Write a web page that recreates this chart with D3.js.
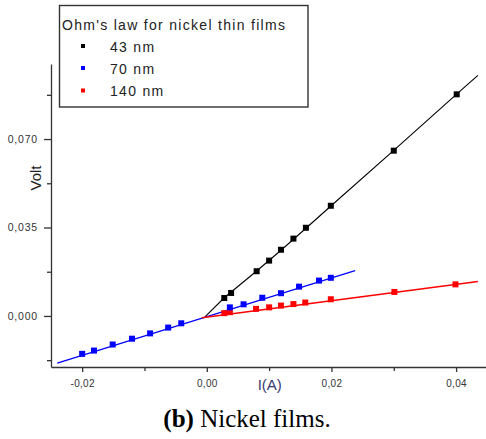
<!DOCTYPE html>
<html><head><meta charset="utf-8">
<script src="https://cdn.jsdelivr.net/npm/d3@7"></script>
<style>
html,body{margin:0;padding:0;background:#fff;}
svg{display:block;font-family:"Liberation Sans",Arial,sans-serif;}
</style></head>
<body>
<svg id="c" width="486" height="439"></svg>
<script>
// ---- data ----
const seriesNames = ["43 nm", "70 nm", "140 nm"];
const seriesColors = ["#000000", "#0000ff", "#ff0000"];
const legendTitle = "Ohm's law for nickel thin films";

const black43I = [0.0028, 0.0039, 0.0080, 0.0100, 0.0119, 0.0139, 0.0159, 0.0199, 0.0300, 0.0401];
const black43V = [0.0071, 0.0091, 0.0177, 0.0219, 0.0262, 0.0306, 0.0349, 0.0436, 0.0654, 0.0877];

const blue70I = [-0.0200, -0.0181, -0.0151, -0.0120, -0.0091, -0.0062, -0.0041, 0.0037, 0.0059, 0.0089, 0.0119, 0.0148, 0.0180, 0.0199];
const blue70V = [-0.0150, -0.0137, -0.0113, -0.0090, -0.0069, -0.0046, -0.0029, 0.0034, 0.0046, 0.0072, 0.0090, 0.0116, 0.0140, 0.0151];

const red140I = [0.0028, 0.0037, 0.0079, 0.0100, 0.0119, 0.0139, 0.0158, 0.0199, 0.0301, 0.0399];
const red140V = [0.0011, 0.0015, 0.0028, 0.0034, 0.0041, 0.0047, 0.0053, 0.0066, 0.0095, 0.0125];

// fitted lines (nodes)
const blackFitI = [-0.0003, 0.0028, 0.0080, 0.0120, 0.0160, 0.0200, 0.0300, 0.0400, 0.0435];
const blackFitV = [-0.0004, 0.0072, 0.0178, 0.0262, 0.0349, 0.0437, 0.0655, 0.0876, 0.0952];
const blueFitI = [-0.0240, 0.0238];
const blueFitV = [-0.0187, 0.0179];
const redFitI = [-0.0008, 0.0435];
const redFitV = [-0.0007, 0.0136];

const xMajorTicks = [-0.02, 0.00, 0.02, 0.04];
const xMajorLabels = ["-0,02", "0,00", "0,02", "0,04"];
const xMinorTicks = [-0.01, 0.01, 0.03];
const yMajorTicks = [0.000, 0.035, 0.070];
const yMajorLabels = ["0,000", "0,035", "0,070"];
const yMinorTicks = [-0.0175, 0.0175, 0.0525, 0.0875];
const xTitle = "I(A)";
const yTitle = "Volt";
const captionBold = "(b)";
const captionRest = " Nickel films.";

// ---- drawing ----
const svg = d3.select("#c");
const x = d3.scaleLinear().domain([-0.025, 0.0448]).range([51, 486]);
const y = d3.scaleLinear().domain([-0.0202, 0.0997]).range([367, 64]);
const axisColor = "#333";

// x axis
const gx = svg.append("g").attr("transform", `translate(0,${y.range()[0]})`);
gx.call(d3.axisBottom(x).tickValues(xMajorTicks).tickSize(5).tickPadding(8)
  .tickFormat((d,i) => xMajorLabels[i]).tickSizeOuter(0));
const gx2 = svg.append("g").attr("transform", `translate(0,${y.range()[0]})`);
gx2.call(d3.axisBottom(x).tickValues(xMinorTicks).tickSize(4).tickFormat("").tickSizeOuter(0));
gx2.select(".domain").remove();

// y axis
const gy = svg.append("g").attr("transform", `translate(${x.range()[0]},0)`);
gy.call(d3.axisLeft(y).tickValues(yMajorTicks).tickSize(7).tickPadding(6)
  .tickFormat((d,i) => yMajorLabels[i]).tickSizeOuter(0));
const gy2 = svg.append("g").attr("transform", `translate(${x.range()[0]},0)`);
gy2.call(d3.axisLeft(y).tickValues(yMinorTicks).tickSize(4).tickFormat("").tickSizeOuter(0));
gy2.select(".domain").remove();

[gx, gx2, gy, gy2].forEach(g => {
  g.selectAll("path,line").attr("stroke", axisColor).attr("stroke-width", 1.3);
});
gx.selectAll("text").attr("fill", "#333").style("font-size", "10px").style("letter-spacing", "0.3px")
  .style("font-family", "'Liberation Sans',Arial,sans-serif");
gy.selectAll("text").attr("fill", "#333").style("font-size", "10.5px").style("letter-spacing", "0.8px")
  .style("font-family", "'Liberation Sans',Arial,sans-serif");

// axis titles
svg.append("text").attr("x", x(0.0101)).attr("y", 384).attr("text-anchor", "middle")
  .attr("dominant-baseline", "central").attr("fill", "#3a3a70")
  .style("font-size", "15px").text(xTitle);
svg.append("text").attr("transform", "translate(35,178) rotate(-90)").attr("text-anchor", "middle")
  .attr("dominant-baseline", "central").attr("fill", "#222")
  .style("font-size", "15px").text(yTitle);

// fit lines
const line = d3.line().x(d => x(d[0])).y(d => y(d[1]));
const fits = [
  [blackFitI, blackFitV, seriesColors[0], 1.1],
  [blueFitI, blueFitV, seriesColors[1], 1.3],
  [redFitI, redFitV, seriesColors[2], 1.5]
];
fits.forEach(([I, V, c, w]) => {
  svg.append("path").datum(I.map((v, i) => [v, V[i]]))
    .attr("d", line).attr("fill", "none").attr("stroke", c).attr("stroke-width", w);
});

// markers
const sets = [
  [red140I, red140V, seriesColors[2]],
  [blue70I, blue70V, seriesColors[1]],
  [black43I, black43V, seriesColors[0]]
];
const ms = 6;
sets.forEach(([I, V, c]) => {
  svg.append("g").selectAll("rect").data(I.map((v, i) => [v, V[i]])).join("rect")
    .attr("x", d => x(d[0]) - ms / 2).attr("y", d => y(d[1]) - ms / 2)
    .attr("width", ms).attr("height", ms).attr("fill", c);
});

// legend
const lg = svg.append("g");
lg.append("rect").attr("x", 59.5).attr("y", 5.5).attr("width", 248.5).attr("height", 101.5)
  .attr("fill", "#fff").attr("stroke", "#333").attr("stroke-width", 1.4);
lg.append("text").attr("x", 62).attr("y", 30).attr("fill", "#222")
  .style("font-size", "14px").style("letter-spacing", "1.3px").text(legendTitle);
const legY = [51.5, 73.5, 96];
seriesNames.forEach((n, i) => {
  lg.append("rect").attr("x", 81).attr("y", legY[i] - 7.5).attr("width", 4).attr("height", 4)
    .attr("fill", seriesColors[i]);
  lg.append("text").attr("x", 110).attr("y", legY[i]).attr("fill", "#222")
    .style("font-size", "14px").style("letter-spacing", "1.3px").text(n);
});

// caption
const cap = svg.append("text").attr("x", 247).attr("y", 427).attr("text-anchor", "middle")
  .attr("fill", "#000").style("font-family", "'Liberation Serif','Times New Roman',serif")
  .style("font-size", "25px");
cap.append("tspan").attr("font-weight", "bold").text(captionBold);
cap.append("tspan").text(captionRest);
</script>
</body></html>
